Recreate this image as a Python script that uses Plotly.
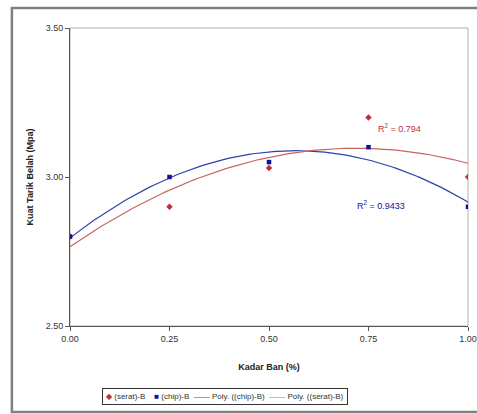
import numpy as np
import plotly.graph_objects as go

kadar = [0.00, 0.25, 0.50, 0.75, 1.00]
serat_b = [2.80, 2.90, 3.03, 3.20, 3.00]
chip_b = [2.80, 3.00, 3.05, 3.10, 2.90]
r2_serat = "R<sup>2</sup> = 0.794"
r2_chip = "R<sup>2</sup> = 0.9433"
x_ticks = [0.00, 0.25, 0.50, 0.75, 1.00]
y_ticks = [2.50, 3.00, 3.50]
names = ["(serat)-B", "(chip)-B", "Poly. ((chip)-B)", "Poly. ((serat)-B)"]

RED_M = "#c0303a"
RED_L = "#c86464"
BLUE_M = "#10109a"
BLUE_L = "#3040a8"
FONT = "Liberation Sans, Arial, sans-serif"

xf = np.linspace(0, 1, 101)
fit_chip = np.polyval(np.polyfit(kadar, chip_b, 2), xf)
fit_serat = np.polyval(np.polyfit(kadar, serat_b, 2), xf)

fig = go.Figure()
fig.add_trace(go.Scatter(x=xf, y=fit_chip, mode="lines", name=names[2],
                         line=dict(color=BLUE_L, width=1.2)))
fig.add_trace(go.Scatter(x=xf, y=fit_serat, mode="lines", name=names[3],
                         line=dict(color=RED_L, width=1.2)))
fig.add_trace(go.Scatter(x=kadar, y=serat_b, mode="markers", name=names[0],
                         marker=dict(symbol="diamond", size=5, color=RED_M)))
fig.add_trace(go.Scatter(x=kadar, y=chip_b, mode="markers", name=names[1],
                         marker=dict(symbol="square", size=4.5, color=BLUE_M)))

fig.add_annotation(x=0.77, y=3.163, xref="x", yref="y", text=r2_serat, showarrow=False,
                   xanchor="left", font=dict(size=9, color=RED_M, family=FONT))
fig.add_annotation(x=0.715, y=2.905, xref="x", yref="y", text=r2_chip, showarrow=False,
                   xanchor="left", font=dict(size=9, color=BLUE_M, family=FONT))

# compact legend box (text-based, like the original Excel legend)
legend_text = (
    f"<span style='color:{RED_M}'>◆</span> {names[0]}    "
    f"<span style='color:{BLUE_M}'>■</span> {names[1]}  "
    f"<span style='color:{BLUE_L}'>——</span> {names[2]}  "
    f"<span style='color:{RED_L}'>——</span> {names[3]}"
)
fig.add_annotation(x=0.39, y=-0.235, xref="paper", yref="paper", text=legend_text,
                   showarrow=False, xanchor="center", yanchor="middle",
                   font=dict(size=8, color="#333", family=FONT),
                   bordercolor="#333", borderwidth=1, borderpad=3, bgcolor="white")

fig.update_xaxes(range=[0, 1], tickvals=x_ticks, tickformat=".2f", automargin=False,
                 showline=True, linecolor="#555", linewidth=1,
                 ticks="outside", ticklen=4, tickcolor="#555", showgrid=False, zeroline=False,
                 title=dict(text="<b>Kadar Ban (%)</b>", font=dict(size=9, family=FONT, color="#222"), standoff=20),
                 tickfont=dict(size=9, family=FONT, color="#333"))
fig.update_yaxes(range=[2.5, 3.5], tickvals=y_ticks, tickformat=".2f", automargin=False,
                 showline=True, linecolor="#555", linewidth=1,
                 ticks="outside", ticklen=4, tickcolor="#555", showgrid=False, zeroline=False,
                 title=dict(text="<b>Kuat Tarik Belah (Mpa)</b>", font=dict(size=9, family=FONT, color="#222"), standoff=10),
                 tickfont=dict(size=9, family=FONT, color="#333"))

# plot area frame (top/right grey)
fig.add_shape(type="rect", xref="paper", yref="paper", x0=0, y0=0, x1=1, y1=1,
              line=dict(color="#b0b0b0", width=1), layer="below")
# outer chart border
fig.add_shape(type="rect", xref="paper", yref="paper", x0=-0.146, y0=-0.289, x1=1.04, y1=1.067,
              line=dict(color="#808080", width=2.5))

fig.update_layout(
    width=477, height=414,
    margin=dict(l=70, r=9, t=28, b=88),
    paper_bgcolor="white", plot_bgcolor="white",
    font=dict(family=FONT, size=9, color="#333"),
    showlegend=False,
)

fig.write_html("out.html", config={"displayModeBar": False},
               post_script="document.body.style.margin='0';document.body.style.overflow='hidden';")
